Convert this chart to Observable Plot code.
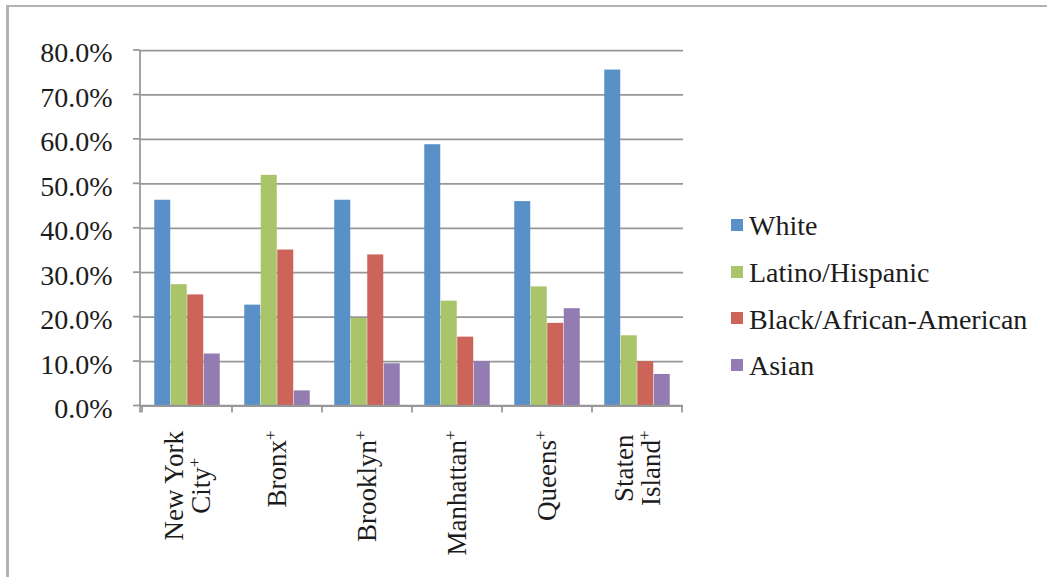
<!DOCTYPE html>
<html>
<head>
<meta charset="utf-8">
<script src="https://cdn.jsdelivr.net/npm/d3@7"></script>
<script src="https://cdn.jsdelivr.net/npm/@observablehq/plot@0.6"></script>
<style>
  html, body { margin: 0; padding: 0; background: #fff; }
  #wrap { position: relative; width: 1047px; height: 577px; overflow: hidden; font-family: "Liberation Serif", serif; }
  #frame { position: absolute; left: 6px; top: 5px; right: -20px; bottom: -20px;
           border-top: 2.5px solid #b3b3b3; border-left: 3px solid #b3b3b3; }
  #chart { position: absolute; left: 0; top: 0; }
  #legend { position: absolute; left: 731px; top: 203px; }
  #legend .lg-swatches { font-family: "Liberation Serif", serif; font-size: 28px; color: #1c1c1c; margin: 0; }
  #legend .lg-swatches .lg-swatch { height: 46.7px; padding: 0; display: flex; align-items: center; }
  #legend .lg-swatches .lg-swatch > svg { margin-right: 6px; margin-top: -3px; }
</style>
</head>
<body>
<div id="wrap">
  <div id="frame"></div>
  <div id="chart"></div>
  <div id="legend"></div>
</div>
<script>
// Share of population by race/ethnicity, New York City and its five boroughs (%)
const boroughs = ["New York City", "Bronx", "Brooklyn", "Manhattan", "Queens", "Staten Island"];
const boroughLabelLines = [["New York", "City"], ["Bronx"], ["Brooklyn"], ["Manhattan"], ["Queens"], ["Staten", "Island"]];
const races = ["White", "Latino/Hispanic", "Black/African-American", "Asian"];

const white  = [46.3, 22.7, 46.3, 58.8, 46.0, 75.6];
const latino = [27.3, 51.9, 19.7, 23.6, 26.8, 15.8];
const black  = [25.0, 35.1, 34.0, 15.5, 18.6, 10.0];
const asian  = [11.7,  3.4,  9.5, 10.0, 21.9,  7.1];

const yTicks = [0, 10, 20, 30, 40, 50, 60, 70, 80];
const raceColors = ["#5a90c8", "#a9c469", "#cc645a", "#927cb2"];

const gridColor = "#979797";
const textColor = "#1c1c1c";
const fontSize = 28;
const labelSize = 27;

// long table: one row per borough × race
const seriesByRace = [white, latino, black, asian];
const rows = [];
races.forEach((race, r) => boroughs.forEach((b, i) => rows.push({borough: b, race, value: seriesByRace[r][i]})));

// layout
const W = 700, H = 577;
const marginLeft = 140, marginRight = 17, marginTop = 50, marginBottom = 171.5;
const band = (W - marginLeft - marginRight) / boroughs.length;
const barW = 16.5;
const groupPad = (band - barW * races.length) / 2;

// one bar mark per race, placed side by side inside each borough band
const bars = races.map((race, r) => Plot.barY(rows.filter(d => d.race === race), {
  x: "borough", y: "value", fill: raceColors[r],
  insetLeft: groupPad + r * barW,
  insetRight: band - groupPad - (r + 1) * barW
}));

// canvas text measurement for the rotated category labels
const measureCtx = document.createElement("canvas").getContext("2d");
function textWidth(s, size) {
  measureCtx.font = `${size}px "Liberation Serif"`;
  return measureCtx.measureText(s).width;
}

// axis lines, ticks between categories and rotated category labels
function categoryAxis(index, {x, y}, values, dims) {
  const bw = typeof x.bandwidth === "function" ? x.bandwidth()
    : (x.bandwidth ?? (x(boroughs[1]) - x(boroughs[0])));
  const left = dims.marginLeft, right = dims.width - dims.marginRight;
  const y0 = y(0), yTop = y(yTicks[yTicks.length - 1]);
  const g = d3.create("svg:g");
  const lines = g.append("g").attr("stroke", gridColor).attr("stroke-width", 1.75).attr("fill", "none");
  for (const t of yTicks) {
    lines.append("line").attr("x1", left - 7).attr("x2", left).attr("y1", y(t)).attr("y2", y(t));
  }
  lines.append("line").attr("x1", left).attr("x2", left).attr("y1", yTop).attr("y2", y0 + 7);
  lines.append("line").attr("x1", left).attr("x2", right).attr("y1", y0).attr("y2", y0);
  const edges = boroughs.map(b => x(b)).concat([x(boroughs[boroughs.length - 1]) + bw]);
  for (const e of edges) {
    lines.append("line").attr("x1", e).attr("x2", e).attr("y1", y0).attr("y2", y0 + 7);
  }

  const labels = g.append("g").attr("fill", textColor).attr("font-size", labelSize).attr("text-anchor", "middle");
  const supSize = 17;
  boroughs.forEach((b, i) => {
    const ls = boroughLabelLines[i];
    const n = ls.length;
    const lens = ls.map((s, k) => textWidth(s, labelSize) + (k === n - 1 ? textWidth("+", supSize) : 0));
    const L = Math.max(...lens);
    const cx = x(b) + bw / 2;
    const top = y0 + 25;
    const gi = labels.append("g").attr("transform", `translate(${cx},${top + L / 2}) rotate(-90)`);
    ls.forEach((s, k) => {
      const t = gi.append("text").attr("x", 0).attr("y", 9 + (k - (n - 1) / 2) * 27).text(s);
      if (k === n - 1) t.append("tspan").attr("font-size", supSize).attr("dy", -10).text("+");
    });
  });
  return g.node();
}

const chart = Plot.plot({
  width: W, height: H,
  marginLeft, marginRight, marginTop, marginBottom,
  style: {fontFamily: '"Liberation Serif", serif', fontSize: fontSize + "px", color: textColor, background: "transparent", overflow: "visible"},
  x: {domain: boroughs, padding: 0, axis: null},
  y: {domain: [0, 80]},
  marks: [
    Plot.gridY(yTicks, {stroke: gridColor, strokeOpacity: 1, strokeWidth: 1.75}),
    ...bars,
    Plot.axisY(yTicks, {tickSize: 0, tickPadding: 28, dy: 3, tickFormat: d => d.toFixed(1) + "%", label: null, fill: textColor}),
    categoryAxis
  ]
});
document.getElementById("chart").append(chart);

const legend = Plot.legend({
  color: {type: "ordinal", domain: races, range: raceColors},
  legend: "swatches", columns: 1, swatchSize: 12, className: "lg"
});
document.getElementById("legend").append(legend);
</script>
</body>
</html>
